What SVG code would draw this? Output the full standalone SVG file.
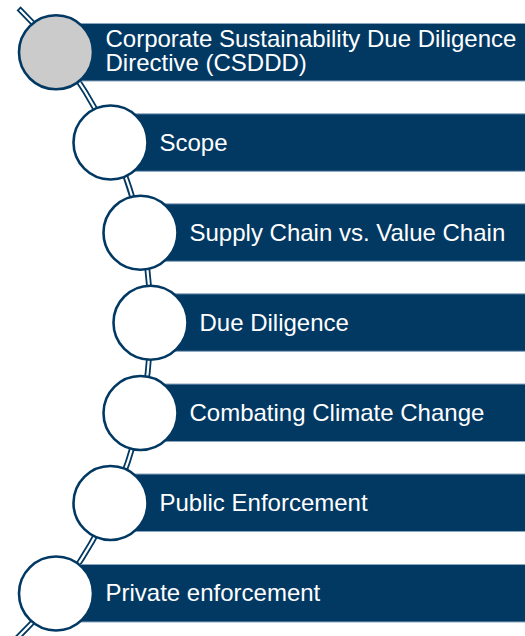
<svg xmlns="http://www.w3.org/2000/svg" width="525" height="636" viewBox="0 0 525 636">
  <style>
    .bar { fill: #023963; stroke: #8aa5bf; stroke-width: 1; }
    .dot { fill: #ffffff; stroke: #023963; stroke-width: 2.6; }
    .dot.main { fill: #cbcbcb; }
    .label { font-family: "Liberation Sans", Arial, sans-serif; font-size: 24px; fill: #ffffff; }
  </style>
  <rect width="525" height="636" fill="#ffffff"/>

  <!-- curved spine (thin ring segment, centre -289.5,322.5) -->
  <g id="connectors">
    <path d="M 20.65 7.6 A 442 442 0 0 1 14.8 643.1 L 12.0 640.2 A 438 438 0 0 0 17.8 10.4 Z"
          fill="#ffffff" stroke="#023963" stroke-width="1.8" stroke-linejoin="miter"/>
  </g>

  <g id="node-csddd">
    <rect class="bar" x="56" y="23.5" width="480" height="57.5"/>
    <circle class="dot main" cx="56" cy="52.3" r="37"/>
    <text class="label" x="105.5" y="47">Corporate Sustainability Due Diligence<tspan x="105.5" dy="24">Directive (CSDDD)</tspan></text>
  </g>

  <g id="node-scope">
    <rect class="bar" x="110.5" y="113.8" width="425" height="57.5"/>
    <circle class="dot" cx="110.5" cy="142.5" r="37"/>
    <text class="label" x="159.5" y="151">Scope</text>
  </g>

  <g id="node-supply-chain">
    <rect class="bar" x="140.5" y="203.8" width="395" height="57.5"/>
    <circle class="dot" cx="140.5" cy="232.7" r="37"/>
    <text class="label" x="189.5" y="241">Supply Chain vs. Value Chain</text>
  </g>

  <g id="node-due-diligence">
    <rect class="bar" x="150.5" y="293.8" width="385" height="57.5"/>
    <circle class="dot" cx="150.5" cy="322.7" r="37"/>
    <text class="label" x="199.5" y="331">Due Diligence</text>
  </g>

  <g id="node-climate">
    <rect class="bar" x="140.5" y="384" width="395" height="57.5"/>
    <circle class="dot" cx="140.5" cy="413" r="37"/>
    <text class="label" x="189.5" y="421">Combating Climate Change</text>
  </g>

  <g id="node-public">
    <rect class="bar" x="110.5" y="474" width="425" height="57.5"/>
    <circle class="dot" cx="110.5" cy="503" r="37"/>
    <text class="label" x="159.5" y="511">Public Enforcement</text>
  </g>

  <g id="node-private">
    <rect class="bar" x="56" y="564.5" width="480" height="57.5"/>
    <circle class="dot" cx="56" cy="593.5" r="37"/>
    <text class="label" x="105.5" y="601">Private enforcement</text>
  </g>
</svg>
